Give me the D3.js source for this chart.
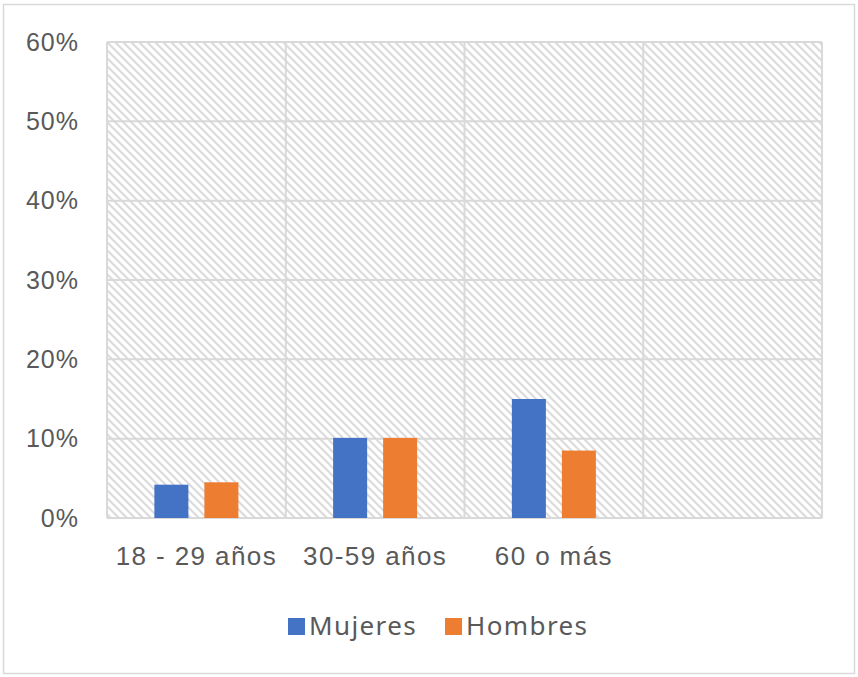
<!DOCTYPE html>
<html>
<head>
<meta charset="utf-8">
<script src="https://cdn.jsdelivr.net/npm/d3@7"></script>
<style>
  html, body { margin: 0; padding: 0; background: #fff; }
  svg { display: block; font-family: 'Noto Sans', 'Open Sans', sans-serif; }
</style>
</head>
<body>
<div id="chart"></div>
<script>
// Age groups (last slot is empty, as in the source chart)
const categories = ['18 - 29 años', '30-59 años', '60 o más', '']
const seriesNames = ['Mujeres', 'Hombres']
const mujeres = [4.2, 10.1, 15.0, null]
const hombres = [4.5, 10.1, 8.5, null]
const yTicks = [0, 10, 20, 30, 40, 50, 60]

const colors = { Mujeres: '#4472C4', Hombres: '#ED7D31' }

const width = 858
const height = 677
const margin = { top: 42, right: 36, bottom: 159, left: 107 }

const svg = d3.select('#chart').append('svg')
  .attr('width', width)
  .attr('height', height)

// outer frame
svg.append('rect')
  .attr('x', 3.5).attr('y', 4.5)
  .attr('width', width - 7).attr('height', height - 8)
  .attr('fill', '#fff').attr('stroke', '#d9d9d9').attr('stroke-width', 1.5)

// diagonal hatch for the plot area
const defs = svg.append('defs')
const pat = defs.append('pattern')
  .attr('id', 'hatch')
  .attr('patternUnits', 'userSpaceOnUse')
  .attr('width', 8).attr('height', 8)
pat.append('rect').attr('width', 8).attr('height', 8).attr('fill', '#fff')
pat.append('path')
  .attr('d', 'M-2,6 L2,10 M0,0 L8,8 M6,-2 L10,2')
  .attr('stroke', '#dcdcdc').attr('stroke-width', 2.2)

const plotW = width - margin.left - margin.right
const plotH = height - margin.top - margin.bottom

const x0 = d3.scaleBand().domain(categories.map((c, i) => i)).range([0, plotW]).padding(0)
const x1 = d3.scaleBand().domain(seriesNames)
  .range([x0.bandwidth() * 0.265, x0.bandwidth() * 0.735])
  .paddingInner(0.32).paddingOuter(0)
const y = d3.scaleLinear().domain([0, 60]).range([plotH, 0])

const g = svg.append('g').attr('transform', `translate(${margin.left},${margin.top})`)

g.append('rect').attr('width', plotW).attr('height', plotH).attr('fill', 'url(#hatch)')

// horizontal gridlines
g.append('g').selectAll('line').data(yTicks).join('line')
  .attr('x1', 0).attr('x2', plotW)
  .attr('y1', d => y(d)).attr('y2', d => y(d))
  .attr('stroke', '#d9d9d9').attr('stroke-width', 2)

// vertical gridlines at category boundaries
const bounds = categories.map((c, i) => x0(i)).concat([plotW])
g.append('g').selectAll('line').data(bounds).join('line')
  .attr('x1', d => d).attr('x2', d => d)
  .attr('y1', 0).attr('y2', plotH)
  .attr('stroke', '#d9d9d9').attr('stroke-width', 2)

// bars
const rows = categories.map((c, i) => ({ i, Mujeres: mujeres[i], Hombres: hombres[i] }))
const groups = g.append('g').selectAll('g').data(rows).join('g')
  .attr('transform', d => `translate(${x0(d.i)},0)`)
groups.selectAll('rect')
  .data(d => seriesNames.filter(s => d[s] != null).map(s => ({ key: s, value: d[s] })))
  .join('rect')
  .attr('x', d => x1(d.key))
  .attr('width', x1.bandwidth())
  .attr('y', d => y(d.value))
  .attr('height', d => y(0) - y(d.value))
  .attr('fill', d => colors[d.key])

const textStyle = (sel, size, ls) => sel.attr('fill', '#595959')
  .style('font-size', size + 'px').style('letter-spacing', ls + 'px')

// y axis labels
const yAxis = g.append('g')
  .call(d3.axisLeft(y).tickValues(yTicks).tickFormat(d => d + '%').tickSize(0).tickPadding(28))
yAxis.select('.domain').remove()
yAxis.selectAll('text').call(textStyle, 25, 1)

// x axis labels
const xAxis = g.append('g').attr('transform', `translate(0,${plotH})`)
  .call(d3.axisBottom(x0).tickFormat(i => categories[i]).tickSize(0).tickPadding(29))
xAxis.select('.domain').remove()
xAxis.selectAll('text').call(textStyle, 26, 1.4)

// legend
const legend = svg.append('g').attr('transform', 'translate(288,618)')
const legendX = [0, 157]
seriesNames.forEach((s, i) => {
  const lg = legend.append('g').attr('transform', `translate(${legendX[i]},0)`)
  lg.append('rect').attr('width', 17).attr('height', 17).attr('fill', colors[s])
  lg.append('text').attr('x', 21).attr('y', 17).text(s).call(textStyle, 26, 1.4)
})
</script>
</body>
</html>
